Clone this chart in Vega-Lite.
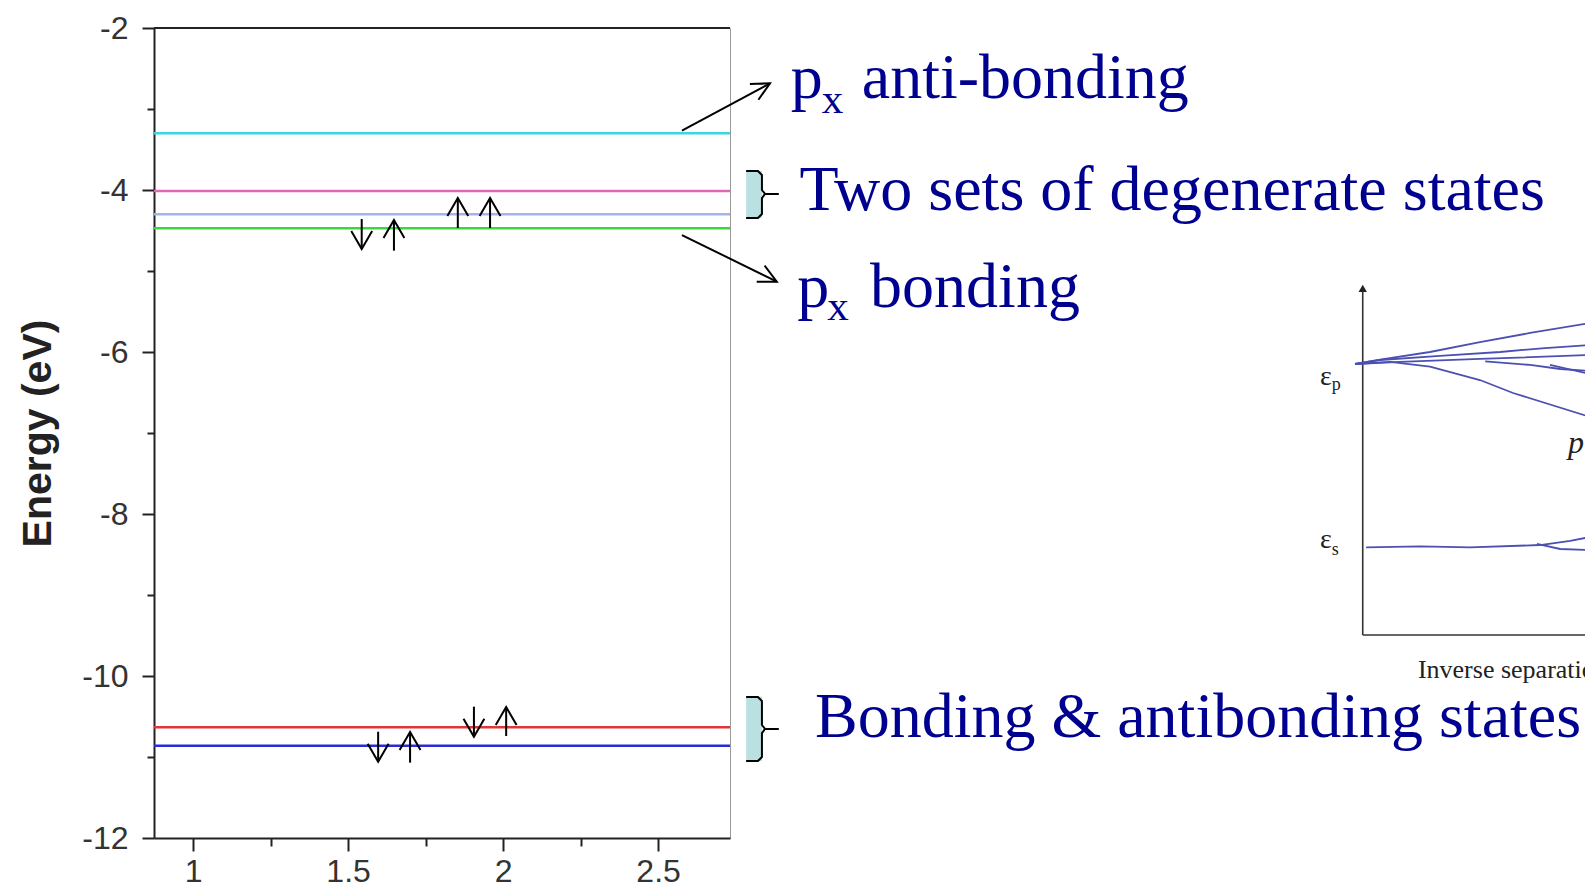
{
  "$schema": "https://vega.github.io/schema/vega-lite/v6.json",
  "width": 576,
  "height": 810,
  "autosize": {"type": "none"},
  "padding": {"left": 154, "top": 28, "right": 855, "bottom": 50},
  "background": "white",
  "config": {
    "view": {"stroke": "#9a9a9a", "strokeWidth": 1},
    "axis": {
      "grid": false,
      "domainColor": "#222222",
      "domainWidth": 2,
      "tickColor": "#222222",
      "tickWidth": 2,
      "labelFont": "Liberation Sans",
      "labelFontSize": 32,
      "labelColor": "#333333"
    }
  },
  "datasets": {
    "levels": [
      {"state": "px anti-bonding", "E": -3.30},
      {"state": "degenerate a", "E": -4.012},
      {"state": "degenerate b", "E": -4.30},
      {"state": "px bonding", "E": -4.473},
      {"state": "s antibonding", "E": -10.633},
      {"state": "s bonding", "E": -10.86}
    ],
    "spins": [
      {"x": 1.544, "tail": -4.358, "tip": -4.728, "spin": "down"},
      {"x": 1.648, "tail": -4.749, "tip": -4.370, "spin": "up"},
      {"x": 1.854, "tail": -4.469, "tip": -4.099, "spin": "up"},
      {"x": 1.958, "tail": -4.469, "tip": -4.099, "spin": "up"},
      {"x": 1.597, "tail": -10.688, "tip": -11.058, "spin": "down"},
      {"x": 1.700, "tail": -11.070, "tip": -10.691, "spin": "up"},
      {"x": 1.906, "tail": -10.379, "tip": -10.749, "spin": "down"},
      {"x": 2.010, "tail": -10.741, "tip": -10.383, "spin": "up"}
    ],
    "pointers": [
      {"label": "anti", "x": 2.577, "y": -3.268, "x2": 2.861, "y2": -2.683},
      {"label": "bond", "x": 2.577, "y": -4.556, "x2": 2.883, "y2": -5.132}
    ],
    "brackets": [
      {"group": "degenerate", "x": 2.784, "x2": 2.835, "y": -3.762, "y2": -4.349},
      {"group": "s", "x": 2.784, "x2": 2.835, "y": -10.256, "y2": -11.049}
    ],
    "braces": [
      {"group": "degenerate", "i": 1, "x": 2.784, "y": -3.765},
      {"group": "degenerate", "i": 2, "x": 2.822, "y": -3.765},
      {"group": "degenerate", "i": 3, "x": 2.835, "y": -3.815},
      {"group": "degenerate", "i": 4, "x": 2.835, "y": -4.000},
      {"group": "degenerate", "i": 5, "x": 2.845, "y": -4.049},
      {"group": "degenerate", "i": 6, "x": 2.887, "y": -4.049},
      {"group": "degenerate", "i": 7, "x": 2.845, "y": -4.049},
      {"group": "degenerate", "i": 8, "x": 2.835, "y": -4.099},
      {"group": "degenerate", "i": 9, "x": 2.835, "y": -4.296},
      {"group": "degenerate", "i": 10, "x": 2.822, "y": -4.346},
      {"group": "degenerate", "i": 11, "x": 2.784, "y": -4.346},
      {"group": "s", "i": 1, "x": 2.784, "y": -10.259},
      {"group": "s", "i": 2, "x": 2.822, "y": -10.259},
      {"group": "s", "i": 3, "x": 2.835, "y": -10.309},
      {"group": "s", "i": 4, "x": 2.835, "y": -10.605},
      {"group": "s", "i": 5, "x": 2.845, "y": -10.654},
      {"group": "s", "i": 6, "x": 2.887, "y": -10.654},
      {"group": "s", "i": 7, "x": 2.845, "y": -10.654},
      {"group": "s", "i": 8, "x": 2.835, "y": -10.704},
      {"group": "s", "i": 9, "x": 2.835, "y": -11.000},
      {"group": "s", "i": 10, "x": 2.822, "y": -11.049},
      {"group": "s", "i": 11, "x": 2.784, "y": -11.049}
    ],
    "annotations": [
      {"text": "p", "x": 2.928, "y": -2.868, "role": "main"},
      {"text": "x", "x": 3.028, "y": -3.049, "role": "sub"},
      {"text": "anti-bonding", "x": 3.157, "y": -2.868, "role": "main"},
      {"text": "Two sets of degenerate states", "x": 2.956, "y": -4.247, "role": "main"},
      {"text": "p", "x": 2.949, "y": -5.441, "role": "main"},
      {"text": "x", "x": 3.046, "y": -5.605, "role": "sub"},
      {"text": "bonding", "x": 3.184, "y": -5.441, "role": "main"},
      {"text": "Bonding & antibonding states", "x": 3.006, "y": -10.757, "role": "main"}
    ],
    "insetAxes": [
      {"axis": "energy", "x": 4.773, "y": -9.494, "x2": 4.773, "y2": -5.22},
      {"axis": "separation", "x": 4.773, "y": -9.494, "x2": 5.55, "y2": -9.494}
    ],
    "insetArrow": [{"x": 4.773, "y": -5.215}],
    "insetCurves": [
      {"curve": "c1", "i": 1, "x": 4.748, "y": -6.148},
      {"curve": "c1", "i": 2, "x": 4.829, "y": -6.093},
      {"curve": "c1", "i": 3, "x": 4.990, "y": -6.000},
      {"curve": "c1", "i": 4, "x": 5.151, "y": -5.877},
      {"curve": "c1", "i": 5, "x": 5.313, "y": -5.765},
      {"curve": "c1", "i": 6, "x": 5.506, "y": -5.642},
      {"curve": "c2", "i": 1, "x": 4.748, "y": -6.148},
      {"curve": "c2", "i": 2, "x": 4.829, "y": -6.099},
      {"curve": "c2", "i": 3, "x": 5.022, "y": -6.049},
      {"curve": "c2", "i": 4, "x": 5.216, "y": -6.000},
      {"curve": "c2", "i": 5, "x": 5.361, "y": -5.951},
      {"curve": "c2", "i": 6, "x": 5.506, "y": -5.914},
      {"curve": "c3", "i": 1, "x": 4.748, "y": -6.148},
      {"curve": "c3", "i": 2, "x": 4.893, "y": -6.123},
      {"curve": "c3", "i": 3, "x": 5.151, "y": -6.086},
      {"curve": "c3", "i": 4, "x": 5.506, "y": -6.037},
      {"curve": "c4", "i": 1, "x": 5.168, "y": -6.117},
      {"curve": "c4", "i": 2, "x": 5.313, "y": -6.160},
      {"curve": "c4", "i": 3, "x": 5.410, "y": -6.210},
      {"curve": "c4", "i": 4, "x": 5.506, "y": -6.235},
      {"curve": "c5", "i": 1, "x": 5.377, "y": -6.160},
      {"curve": "c5", "i": 2, "x": 5.506, "y": -6.272},
      {"curve": "c6", "i": 1, "x": 4.748, "y": -6.148},
      {"curve": "c6", "i": 2, "x": 4.861, "y": -6.123},
      {"curve": "c6", "i": 3, "x": 4.990, "y": -6.181},
      {"curve": "c6", "i": 4, "x": 5.151, "y": -6.346},
      {"curve": "c6", "i": 5, "x": 5.258, "y": -6.506},
      {"curve": "c6", "i": 6, "x": 5.506, "y": -6.802},
      {"curve": "s1", "i": 1, "x": 4.784, "y": -8.411},
      {"curve": "s1", "i": 2, "x": 4.958, "y": -8.399},
      {"curve": "s1", "i": 3, "x": 5.119, "y": -8.411},
      {"curve": "s1", "i": 4, "x": 5.345, "y": -8.383},
      {"curve": "s1", "i": 5, "x": 5.442, "y": -8.333},
      {"curve": "s1", "i": 6, "x": 5.506, "y": -8.284},
      {"curve": "s2", "i": 1, "x": 5.335, "y": -8.370},
      {"curve": "s2", "i": 2, "x": 5.410, "y": -8.432},
      {"curve": "s2", "i": 3, "x": 5.506, "y": -8.444}
    ],
    "insetText": [
      {"text": "ε", "x": 4.635, "y": -6.407, "role": "symbol"},
      {"text": "p", "x": 4.673, "y": -6.469, "role": "sub"},
      {"text": "ε", "x": 4.635, "y": -8.420, "role": "symbol"},
      {"text": "s", "x": 4.673, "y": -8.506, "role": "sub"},
      {"text": "Inverse separation", "x": 4.951, "y": -10.025, "role": "axis"},
      {"text": "p", "x": 5.435, "y": -7.247, "role": "curve"}
    ]
  },
  "resolve": {"axis": {"x": "independent", "y": "independent"}},
  "layer": [
    {
      "layer": [
        {
          "data": {"name": "levels"},
          "mark": {"type": "rule", "strokeWidth": 2.5},
          "encoding": {
            "y": {
              "field": "E",
              "type": "quantitative",
              "scale": {"domain": [-12, -2], "nice": false, "zero": false},
              "axis": {
                "values": [-12, -10, -8, -6, -4, -2],
                "tickSize": 12,
                "labelPadding": 14,
                "labelExpr": "'' + datum.value",
                "title": "Energy (eV)",
                "titleFont": "Liberation Sans",
                "titleFontSize": 41,
                "titleFontWeight": "bold",
                "titleColor": "#222222",
                "titlePadding": 22
              }
            },
            "color": {
              "field": "state",
              "type": "nominal",
              "scale": {
                "domain": ["px anti-bonding", "degenerate a", "degenerate b", "px bonding", "s antibonding", "s bonding"],
                "range": ["#3ad6e2", "#e066b8", "#a3b4ea", "#38d838", "#e03636", "#2a2ad8"]
              },
              "legend": null
            }
          }
        },
        {
          "data": {"values": [{}]},
          "mark": {"type": "rule", "stroke": "#222222", "strokeWidth": 2},
          "encoding": {"y": {"datum": -2, "type": "quantitative"}}
        },
        {
          "data": {"name": "spins"},
          "mark": {"type": "rule", "stroke": "black", "strokeWidth": 2},
          "encoding": {
            "x": {
              "field": "x",
              "type": "quantitative",
              "scale": {"domain": [0.874, 2.732], "nice": false, "zero": false},
              "axis": {
                "values": [1, 1.5, 2, 2.5],
                "tickSize": 13,
                "labelPadding": 5,
                "labelExpr": "'' + datum.value",
                "title": null
              }
            },
            "y": {"field": "tail", "type": "quantitative"},
            "y2": {"field": "tip"}
          }
        },
        {
          "data": {"name": "spins"},
          "transform": [{"filter": "datum.spin === 'up'"}],
          "mark": {"type": "point", "shape": "M-1,-0.58L0,0L-1,0.58", "filled": false, "stroke": "black", "strokeWidth": 2, "size": 1296, "angle": 270, "opacity": 1},
          "encoding": {
            "x": {"field": "x", "type": "quantitative"},
            "y": {"field": "tip", "type": "quantitative"}
          }
        },
        {
          "data": {"name": "spins"},
          "transform": [{"filter": "datum.spin === 'down'"}],
          "mark": {"type": "point", "shape": "M-1,-0.58L0,0L-1,0.58", "filled": false, "stroke": "black", "strokeWidth": 2, "size": 1296, "angle": 90, "opacity": 1},
          "encoding": {
            "x": {"field": "x", "type": "quantitative"},
            "y": {"field": "tip", "type": "quantitative"}
          }
        },
        {
          "data": {"name": "pointers"},
          "mark": {"type": "rule", "stroke": "black", "strokeWidth": 2},
          "encoding": {
            "x": {"field": "x", "type": "quantitative"},
            "y": {"field": "y", "type": "quantitative"},
            "x2": {"field": "x2"},
            "y2": {"field": "y2"}
          }
        },
        {
          "data": {"name": "pointers"},
          "transform": [{"filter": "datum.label === 'anti'"}],
          "mark": {"type": "point", "shape": "M-1,-0.5L0,0L-1,0.5", "filled": false, "stroke": "black", "strokeWidth": 2, "size": 1296, "angle": -28.3, "opacity": 1},
          "encoding": {
            "x": {"field": "x2", "type": "quantitative"},
            "y": {"field": "y2", "type": "quantitative"}
          }
        },
        {
          "data": {"name": "pointers"},
          "transform": [{"filter": "datum.label === 'bond'"}],
          "mark": {"type": "point", "shape": "M-1,-0.5L0,0L-1,0.5", "filled": false, "stroke": "black", "strokeWidth": 2, "size": 1296, "angle": 26.2, "opacity": 1},
          "encoding": {
            "x": {"field": "x2", "type": "quantitative"},
            "y": {"field": "y2", "type": "quantitative"}
          }
        },
        {
          "data": {"name": "brackets"},
          "mark": {"type": "rect", "fill": "#bbe0e2"},
          "encoding": {
            "x": {"field": "x", "type": "quantitative"},
            "x2": {"field": "x2"},
            "y": {"field": "y", "type": "quantitative"},
            "y2": {"field": "y2"}
          }
        },
        {
          "data": {"name": "braces"},
          "mark": {"type": "line", "stroke": "black", "strokeWidth": 2, "strokeJoin": "round"},
          "encoding": {
            "x": {"field": "x", "type": "quantitative"},
            "y": {"field": "y", "type": "quantitative"},
            "order": {"field": "i", "type": "quantitative"},
            "detail": {"field": "group"}
          }
        },
        {
          "data": {"name": "annotations"},
          "transform": [{"filter": "datum.role === 'main'"}],
          "mark": {"type": "text", "font": "Liberation Serif", "fontSize": 64, "fill": "#000090", "align": "left", "baseline": "alphabetic"},
          "encoding": {
            "x": {"field": "x", "type": "quantitative"},
            "y": {"field": "y", "type": "quantitative"},
            "text": {"field": "text"}
          }
        },
        {
          "data": {"name": "annotations"},
          "transform": [{"filter": "datum.role === 'sub'"}],
          "mark": {"type": "text", "font": "Liberation Serif", "fontSize": 43, "fill": "#000090", "align": "left", "baseline": "alphabetic"},
          "encoding": {
            "x": {"field": "x", "type": "quantitative"},
            "y": {"field": "y", "type": "quantitative"},
            "text": {"field": "text"}
          }
        },
        {
          "data": {"name": "insetAxes"},
          "mark": {"type": "rule", "stroke": "#333333", "strokeWidth": 1.6},
          "encoding": {
            "x": {"field": "x", "type": "quantitative"},
            "y": {"field": "y", "type": "quantitative"},
            "x2": {"field": "x2"},
            "y2": {"field": "y2"}
          }
        },
        {
          "data": {"name": "insetArrow"},
          "mark": {"type": "point", "shape": "triangle-up", "filled": true, "fill": "#222222", "size": 70, "opacity": 1},
          "encoding": {
            "x": {"field": "x", "type": "quantitative"},
            "y": {"field": "y", "type": "quantitative"}
          }
        },
        {
          "data": {"name": "insetCurves"},
          "mark": {"type": "line", "stroke": "#4b50b2", "strokeWidth": 1.8},
          "encoding": {
            "x": {"field": "x", "type": "quantitative"},
            "y": {"field": "y", "type": "quantitative"},
            "order": {"field": "i", "type": "quantitative"},
            "detail": {"field": "curve"}
          }
        },
        {
          "data": {"name": "insetText"},
          "transform": [{"filter": "datum.role === 'symbol'"}],
          "mark": {"type": "text", "font": "Liberation Serif", "fontSize": 28, "fill": "#222222", "align": "left", "baseline": "alphabetic"},
          "encoding": {
            "x": {"field": "x", "type": "quantitative"},
            "y": {"field": "y", "type": "quantitative"},
            "text": {"field": "text"}
          }
        },
        {
          "data": {"name": "insetText"},
          "transform": [{"filter": "datum.role === 'sub'"}],
          "mark": {"type": "text", "font": "Liberation Serif", "fontSize": 18, "fill": "#222222", "align": "left", "baseline": "alphabetic"},
          "encoding": {
            "x": {"field": "x", "type": "quantitative"},
            "y": {"field": "y", "type": "quantitative"},
            "text": {"field": "text"}
          }
        },
        {
          "data": {"name": "insetText"},
          "transform": [{"filter": "datum.role === 'axis'"}],
          "mark": {"type": "text", "font": "Liberation Serif", "fontSize": 26, "fill": "#222222", "align": "left", "baseline": "alphabetic"},
          "encoding": {
            "x": {"field": "x", "type": "quantitative"},
            "y": {"field": "y", "type": "quantitative"},
            "text": {"field": "text"}
          }
        },
        {
          "data": {"name": "insetText"},
          "transform": [{"filter": "datum.role === 'curve'"}],
          "mark": {"type": "text", "font": "Liberation Serif", "fontSize": 32, "fontStyle": "italic", "fill": "#222222", "align": "left", "baseline": "alphabetic"},
          "encoding": {
            "x": {"field": "x", "type": "quantitative"},
            "y": {"field": "y", "type": "quantitative"},
            "text": {"field": "text"}
          }
        }
      ]
    },
    {
      "data": {"name": "levels"},
      "mark": {"type": "point", "opacity": 0},
      "encoding": {
        "y": {
          "field": "E",
          "type": "quantitative",
          "scale": {"domain": [-12, -2], "nice": false, "zero": false},
          "axis": {"orient": "left", "values": [-11, -9, -7, -5, -3], "tickSize": 7, "labels": false, "domain": false, "title": null}
        },
        "x": {
          "datum": 1,
          "type": "quantitative",
          "scale": {"domain": [0.874, 2.732], "nice": false, "zero": false},
          "axis": {"orient": "bottom", "values": [1.25, 1.75, 2.25], "tickSize": 8, "labels": false, "domain": false, "title": null}
        }
      }
    }
  ]
}
